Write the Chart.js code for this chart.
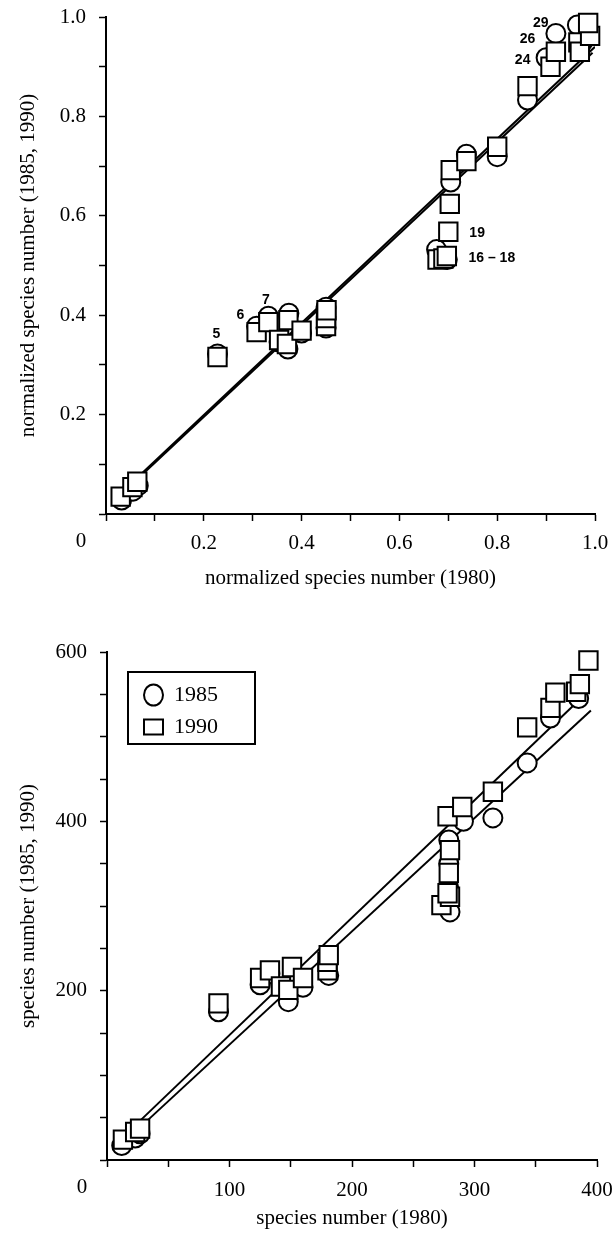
<!DOCTYPE html>
<html>
<head>
<meta charset="utf-8">
<script src="https://cdn.jsdelivr.net/npm/chart.js@4.4.1/dist/chart.umd.min.js"></script>
<style>
  html, body { margin: 0; padding: 0; background: #fff; }
  canvas { display: block; }
</style>
</head>
<body>
<canvas id="normChart" width="616" height="620"></canvas>
<canvas id="countChart" width="616" height="619"></canvas>
<script>
// ---- top panel: normalized species numbers ----
const normTickValues = [0, 0.1, 0.2, 0.3, 0.4, 0.5, 0.6, 0.7, 0.8, 0.9, 1.0];
const normTickLabels = ['', '', '0.2', '', '0.4', '', '0.6', '', '0.8', '', '1.0'];

const norm85X = [0.032, 0.055, 0.066, 0.228, 0.308, 0.332, 0.354, 0.372, 0.374, 0.400, 0.450, 0.450, 0.676, 0.690, 0.698, 0.705, 0.737, 0.800, 0.862, 0.900, 0.920, 0.975, 0.964];
const norm85Y = [0.028, 0.046, 0.057, 0.322, 0.378, 0.398, 0.346, 0.332, 0.404, 0.364, 0.374, 0.416, 0.532, 0.514, 0.512, 0.668, 0.724, 0.719, 0.833, 0.918, 0.967, 0.950, 0.984];
const norm90X = [0.030, 0.054, 0.064, 0.228, 0.308, 0.332, 0.354, 0.370, 0.373, 0.400, 0.450, 0.450, 0.451, 0.678, 0.690, 0.697, 0.700, 0.703, 0.705, 0.737, 0.800, 0.862, 0.909, 0.920, 0.966, 0.969, 0.990, 0.986];
const norm90Y = [0.035, 0.054, 0.065, 0.316, 0.366, 0.386, 0.350, 0.342, 0.390, 0.369, 0.378, 0.394, 0.410, 0.512, 0.514, 0.519, 0.568, 0.624, 0.692, 0.710, 0.739, 0.861, 0.900, 0.930, 0.949, 0.930, 0.962, 0.988];

const normFit85X = [0.066, 0.995];
const normFit85Y = [0.072, 0.928];
const normFit90X = [0.066, 1.0];
const normFit90Y = [0.075, 0.940];

// site numbers written next to some points
const annotText = ['5', '6', '7', '19', '16 \u2013 18', '24', '26', '29'];
const annotX = [0.226, 0.275, 0.327, 0.759, 0.789, 0.852, 0.862, 0.889];
const annotY = [0.362, 0.400, 0.431, 0.565, 0.515, 0.913, 0.955, 0.988];

// ---- bottom panel: species numbers ----
const countXTickValues = [0, 50, 100, 150, 200, 250, 300, 350, 400];
const countXTickLabels = ['', '', '100', '', '200', '', '300', '', '400'];
const countYTickValues = [0, 50, 100, 150, 200, 250, 300, 350, 400, 450, 500, 550, 600];
const countYTickLabels = ['', '', '', '', '200', '', '', '', '400', '', '', '', '600'];

const count85X = [12, 23, 27, 91, 125, 133, 148, 160, 181, 280, 279, 279, 279, 291, 315, 343, 362, 385];
const count85Y = [17, 26, 31, 175, 207, 220, 187, 204, 218, 293, 321, 350, 378, 400, 404, 469, 522, 545];
const count90X = [13, 23, 27, 91, 125, 133, 142, 148, 151, 160, 180, 180, 181, 273, 280, 278, 279, 280, 278, 290, 315, 343, 362, 366, 383, 386, 393];
const count90Y = [24, 33, 37, 185, 215, 224, 205, 201, 228, 215, 224, 234, 242, 301, 311, 315, 339, 366, 406, 417, 435, 511, 534, 552, 553, 562, 590];

const countFit85X = [28, 395];
const countFit85Y = [40, 531];
const countFit90X = [26, 391];
const countFit90Y = [45, 551];

const seriesNames = ['1985', '1990'];
const originLabel = '0';

Chart.defaults.font.family = '"Liberation Serif", "Times New Roman", serif';
Chart.defaults.color = '#000';

function pts(xs, ys) {
  return xs.map((x, i) => ({x: x, y: ys[i]}));
}

function markers(label, xs, ys, style, radius, order) {
  return {
    label: label,
    data: pts(xs, ys),
    pointStyle: style,
    pointRadius: radius,
    pointHoverRadius: radius,
    borderWidth: 2,
    borderColor: '#000',
    backgroundColor: '#fff',
    order: order,
    clip: false
  };
}

function fitLine(label, xs, ys) {
  return {
    label: label,
    data: pts(xs, ys),
    showLine: true,
    pointRadius: 0,
    borderWidth: 2,
    borderColor: '#000',
    backgroundColor: '#000',
    fill: false,
    order: 3
  };
}

function axis(values, labels, title, size, titlePad, labelPad) {
  return {
    type: 'linear',
    min: values[0],
    max: values[values.length - 1],
    afterBuildTicks: (s) => { s.ticks = values.map(v => ({value: v})); },
    afterFit: (s) => {
      if (s.isHorizontal()) { s.height = size; s.paddingLeft = 0; s.paddingRight = 0; }
      else { s.width = size; s.paddingTop = 0; s.paddingBottom = 0; }
    },
    border: {display: true, color: '#000', width: 2},
    grid: {display: true, drawOnChartArea: false, drawTicks: true, tickLength: 7, tickColor: '#000', tickWidth: 1.5},
    ticks: {
      autoSkip: false,
      maxRotation: 0,
      padding: labelPad,
      font: {size: 21},
      callback: (v, i) => labels[i]
    },
    title: {display: true, text: title, font: {size: 21}, padding: titlePad}
  };
}

const originPlugin = {
  id: 'originZero',
  afterDraw(chart) {
    const xs = chart.scales.x;
    const ctx = chart.ctx;
    ctx.save();
    ctx.font = '21px "Liberation Serif"';
    ctx.fillStyle = '#000';
    ctx.textAlign = 'center';
    ctx.textBaseline = 'top';
    ctx.fillText(originLabel, xs.getPixelForValue(0) - 25, xs.top + 17);
    ctx.restore();
  }
};

const annotPlugin = {
  id: 'siteNumbers',
  afterDatasetsDraw(chart) {
    const ctx = chart.ctx;
    ctx.save();
    ctx.font = 'bold 14px "Liberation Sans"';
    ctx.fillStyle = '#000';
    ctx.textAlign = 'center';
    ctx.textBaseline = 'middle';
    annotText.forEach((t, i) => {
      ctx.fillText(t, chart.scales.x.getPixelForValue(annotX[i]), chart.scales.y.getPixelForValue(annotY[i]));
    });
    ctx.restore();
  }
};

// move the legend into the upper left corner and put a frame round it
const legendBoxPlugin = {
  id: 'legendBox',
  afterLayout(chart) {
    const lg = chart.legend, ca = chart.chartArea;
    if (!lg) return;
    lg.left = ca.left + 27;
    lg.right = lg.left + 130;
    lg.top = ca.top + 22;
    lg.bottom = lg.top + 200;
  },
  afterDraw(chart) {
    const lg = chart.legend;
    const ctx = chart.ctx;
    ctx.save();
    ctx.strokeStyle = '#000';
    ctx.lineWidth = 2;
    ctx.strokeRect(lg.left - 6, lg.top - 2, 127, 72);
    ctx.restore();
  }
};

new Chart(document.getElementById('normChart'), {
  type: 'scatter',
  data: {
    datasets: [
      markers(seriesNames[0], norm85X, norm85Y, 'circle', 9.5, 2),
      markers(seriesNames[1], norm90X, norm90Y, 'rect', 13, 1),
      fitLine('fit 1985', normFit85X, normFit85Y),
      fitLine('fit 1990', normFit90X, normFit90Y)
    ]
  },
  options: {
    responsive: false,
    animation: false,
    layout: {padding: {top: 17, right: 21, left: 0, bottom: 0}},
    plugins: {legend: {display: false}, tooltip: {enabled: false}},
    scales: {
      x: axis(normTickValues, normTickLabels, 'normalized species number (1980)', 106, {top: 0, bottom: 29}, 10),
      y: axis(normTickValues, normTickLabels, 'normalized species number (1985, 1990)', 106, {top: 16, bottom: 0}, 13)
    }
  },
  plugins: [originPlugin, annotPlugin]
});

new Chart(document.getElementById('countChart'), {
  type: 'scatter',
  data: {
    datasets: [
      markers(seriesNames[0], count85X, count85Y, 'circle', 9.5, 2),
      markers(seriesNames[1], count90X, count90Y, 'rect', 13, 1),
      fitLine('fit 1985', countFit85X, countFit85Y),
      fitLine('fit 1990', countFit90X, countFit90Y)
    ]
  },
  options: {
    responsive: false,
    animation: false,
    layout: {padding: {top: 32, right: 19, left: 0, bottom: 0}},
    plugins: {
      tooltip: {enabled: false},
      legend: {
        position: 'chartArea',
        align: 'start',
        labels: {
          usePointStyle: true,
          pointStyleWidth: 19,
          boxHeight: 15,
          padding: 10,
          color: '#000',
          font: {size: 22},
          filter: (item) => item.datasetIndex < 2,
          sort: (a, b) => a.datasetIndex - b.datasetIndex
        }
      }
    },
    scales: {
      x: axis(countXTickValues, countXTickLabels, 'species number (1980)', 79, {top: 0, bottom: 8}, 11),
      y: axis(countYTickValues, countYTickLabels, 'species number (1985, 1990)', 107, {top: 16, bottom: 0}, 13)
    }
  },
  plugins: [originPlugin, legendBoxPlugin]
});
</script>
</body>
</html>
